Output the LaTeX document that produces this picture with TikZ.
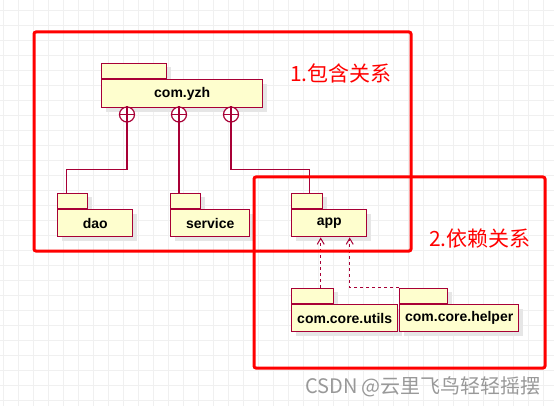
\documentclass[tikz,border=0pt]{standalone}
\usepackage{fontspec}
\setmainfont{Liberation Sans}
\newfontfamily\cjk{Noto Sans CJK SC}
\usetikzlibrary{arrows.meta,shadows}
\definecolor{pkgline}{HTML}{A80036}
\definecolor{pkgfill}{HTML}{FEFECE}
\definecolor{gridc}{HTML}{F0F0F0}
\definecolor{shadowc}{HTML}{E6E6E6}
\tikzset{
  pkgbody/.style={draw=pkgline, fill=pkgfill, line width=1.4pt, inner sep=0pt,
    font=\fontsize{14}{14}\selectfont\bfseries,
    drop shadow={shadow xshift=4pt, shadow yshift=-4pt, fill=shadowc, opacity=1}},
  pkgtab/.style={draw=pkgline, fill=pkgfill, line width=1.4pt, inner sep=0pt, anchor=south west,
    minimum height=15pt,
    drop shadow={shadow xshift=4pt, shadow yshift=-4pt, fill=shadowc, opacity=1}},
  conn/.style={draw=pkgline, line width=1.3pt},
  dep/.style={draw=pkgline, line width=1.2pt, dash pattern=on 3pt off 3pt,
    -{Straight Barb[length=6pt,width=7pt,line width=1pt]}},
  plusc/.style={circle, draw=pkgline, line width=1.2pt, minimum size=15pt, inner sep=0pt, fill=white},
  redbox/.style={draw=red, line width=3pt, rounded corners=2pt},
  redlabel/.style={text=red, font=\cjk\fontsize{21}{21}\selectfont, inner sep=0pt},
  wmark/.style={text=black!40, font=\cjk\fontsize{20}{20}\selectfont, inner sep=0pt},
  gridline/.style={draw=gridc, line width=0.8pt}
}
\begin{document}
\begin{tikzpicture}[x=1pt,y=-1pt]
\useasboundingbox[fill=white] (0,0) rectangle (554,406);
% background grid
\foreach \gx in {3,18,...,554} \draw[gridline] (\gx,0) -- (\gx,406);
\foreach \gy in {10,25,...,406} \draw[gridline] (0,\gy) -- (554,\gy);

% packages
\node[pkgtab, minimum width=65pt] (yzhT) at (101,79) {};
\node[pkgbody, anchor=north west, minimum width=161pt, minimum height=28pt] (yzh) at (101,79) {com.yzh};

\node[pkgtab, minimum width=30pt] (daoT) at (57,209) {};
\node[pkgbody, anchor=north west, minimum width=75pt, minimum height=27pt] (dao) at (57,209) {dao};

\node[pkgtab, minimum width=30pt] (serviceT) at (170,209) {};
\node[pkgbody, anchor=north west, minimum width=79pt, minimum height=27pt] (service) at (170,209) {service};

\node[pkgtab, minimum width=31pt] (appT) at (291,209) {};
\node[pkgbody, anchor=north west, minimum width=75pt, minimum height=27pt] (app) at (291,209) {app};

\node[pkgtab, minimum width=42pt] (utilsT) at (291,304) {};
\node[pkgbody, anchor=north west, minimum width=106pt, minimum height=27pt] (utils) at (291,304) {com.core.utils};

\node[pkgtab, minimum width=48pt] (helperT) at (399,304) {};
\node[pkgbody, anchor=north west, minimum width=119pt, minimum height=27pt] (helper) at (399,304) {com.core.helper};

% containment circles
\foreach \n/\cx in {c1/127,c2/179,c3/231}{
  \node[plusc] (\n) at (\cx,114.5) {};
  \draw[conn] (\n.north) -- (\n.south) (\n.west) -- (\n.east);
}
\draw[conn] (c1.south) -- ++(0,47) -| ([xshift=-6pt]daoT.north);
\draw[conn] (c2.south) -- (c2.south |- serviceT.north);
\draw[conn] (c3.south) -- ++(0,47) -| ([xshift=2.5pt]appT.north);

% dependencies
\draw[dep] ([xshift=8pt]utilsT.north) -- ([xshift=8pt]utilsT.north |- app.south);
\draw[dep] (helperT.north west) -| ([xshift=20.5pt]app.south);

% red frames
\draw[redbox] (34,32) rectangle (411,251);
\draw[redbox] (254,177) rectangle (545,368);
\node[redlabel] (l1) at (341,73) {1.包含关系};
\node[redlabel] (l2) at (480,239) {2.依赖关系};

\node[wmark] (wm) at (423,387) {CSDN @云里飞鸟轻轻摇摆};
\end{tikzpicture}
\end{document}
